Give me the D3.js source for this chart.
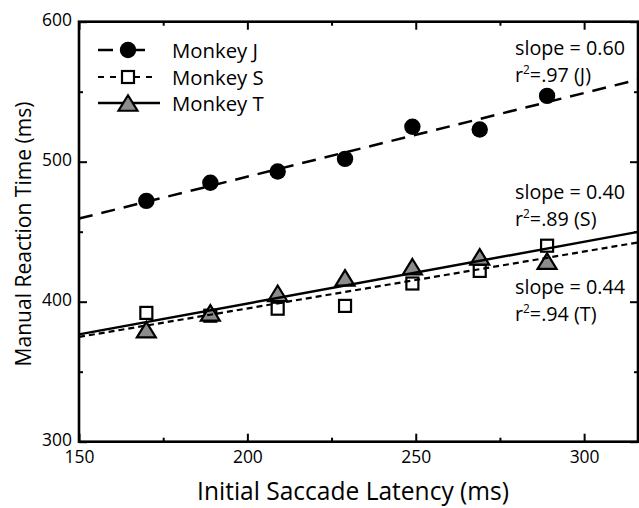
<!DOCTYPE html>
<html>
<head>
<meta charset="utf-8">
<script src="https://cdn.jsdelivr.net/npm/d3@7/dist/d3.min.js"></script>
<style>
  html, body { margin: 0; padding: 0; background: #fff; }
  svg { display: block; font-family: "Open Sans", "Noto Sans", sans-serif; }
</style>
</head>
<body>
<svg width="639" height="508"></svg>
<script>
'use strict';
// latency bins (ms) shared by the three monkeys
const latency = [170, 189, 209, 229, 249, 269, 289];
const rtJ = [472, 485, 493, 502, 525, 523, 547];
const rtS = [392, 390, 395, 397, 413, 422, 440];
const rtT = [380, 392, 406, 417, 425, 432, 429];
const seriesNames = ['Monkey J', 'Monkey S', 'Monkey T'];
const slopeLabels = ['0.60', '0.40', '0.44'];
const r2Labels = ['.97 (J)', '.89 (S)', '.94 (T)'];
const xMajor = [150, 200, 250, 300];
const xMinor = [175, 225, 275];
const yMajor = [300, 400, 500, 600];
const yMinor = [350, 450, 550];

(() => {
  const svg = d3.select('svg');
  const left = 79, right = 638, top = 21.7, bottom = 441.7;

  const x = d3.scaleLinear().domain([150, 316]).range([left, right]);
  const y = d3.scaleLinear().domain([300, 600]).range([bottom, top]);

  const series = [
    { name: seriesNames[0], values: rtJ, marker: 'circle', dash: '14,9', legendDash: '15,23,9', width: 2.5 },
    { name: seriesNames[1], values: rtS, marker: 'square', dash: '6,4', legendDash: '6,6', width: 2.2 },
    { name: seriesNames[2], values: rtT, marker: 'triangle', dash: null, legendDash: null, width: 2.5 }
  ];

  function fit(values) {
    const mx = d3.mean(latency), my = d3.mean(values);
    let sxy = 0, sxx = 0;
    latency.forEach((v, i) => {
      sxy += (v - mx) * (values[i] - my);
      sxx += (v - mx) * (v - mx);
    });
    const b = sxy / sxx;
    return { b: b, a: my - b * mx };
  }

  // shrink / grow a text so it spans a given width
  function fitText(sel, target) {
    const node = sel.node();
    const fs = parseFloat(sel.attr('font-size'));
    const w = node.getComputedTextLength();
    sel.attr('font-size', (fs * target / w).toFixed(2));
  }

  function drawMarker(g, kind, cx, cy) {
    if (kind === 'circle') {
      g.append('circle').attr('cx', cx).attr('cy', cy).attr('r', 8.2)
        .attr('fill', '#000');
    } else if (kind === 'square') {
      g.append('rect').attr('x', cx - 6).attr('y', cy - 6)
        .attr('width', 12).attr('height', 12)
        .attr('fill', '#fff').attr('stroke', '#000').attr('stroke-width', 2.2);
    } else {
      const w = 19, h = 15.5;
      g.append('path')
        .attr('d', `M${cx},${cy - h / 2}L${cx + w / 2},${cy + h / 2}L${cx - w / 2},${cy + h / 2}Z`)
        .attr('fill', '#8c8c8c').attr('stroke', '#000').attr('stroke-width', 2.2)
        .attr('stroke-linejoin', 'miter');
    }
  }

  // markers
  const marks = svg.append('g');
  series.forEach(s => {
    s.values.forEach((v, i) => drawMarker(marks, s.marker, x(latency[i]), y(v)));
  });

  // regression lines on top of markers
  const lines = svg.append('g');
  series.forEach(s => {
    const f = fit(s.values);
    const [x0, x1] = x.domain();
    lines.append('line')
      .attr('x1', x(x0)).attr('y1', y(f.a + f.b * x0))
      .attr('x2', x(x1)).attr('y2', y(f.a + f.b * x1))
      .attr('stroke', '#000').attr('stroke-width', s.width)
      .attr('stroke-dasharray', s.dash);
  });

  // axes, ticks inward on all four sides
  function axis(gen, tr, major, minor, labels) {
    const g = svg.append('g').attr('transform', tr);
    g.call(gen.tickValues(major).tickSize(-8).tickPadding(labels ? 7 : 0)
      .tickFormat(labels ? d3.format('d') : ''));
    g.select('.domain').remove();
    g.selectAll('.tick line').attr('stroke-width', 2);
    const gm = svg.append('g').attr('transform', tr);
    gm.call(gen.tickValues(minor).tickSize(-4).tickFormat(''));
    gm.select('.domain').remove();
    gm.selectAll('.tick line').attr('stroke-width', 2);
    return g;
  }
  const gx = axis(d3.axisBottom(x), `translate(0,${bottom})`, xMajor, xMinor, true);
  axis(d3.axisTop(x), `translate(0,${top})`, xMajor, xMinor, false);
  const gy = axis(d3.axisLeft(y), `translate(${left},0)`, yMajor, yMinor, true);
  axis(d3.axisRight(y), `translate(${right},0)`, yMajor, yMinor, false);

  svg.append('rect')
    .attr('x', left).attr('y', top)
    .attr('width', right - left).attr('height', bottom - top)
    .attr('fill', 'none').attr('stroke', '#000').attr('stroke-width', 2.6);

  [gx, gy].forEach(g => g.selectAll('.tick text')
    .attr('font-family', '"Open Sans", sans-serif')
    .attr('fill', '#000').attr('font-size', 18));
  const ref = gy.selectAll('.tick text').filter(d => d === 600);
  fitText(ref, 30);
  const tickFs = ref.attr('font-size');
  gx.selectAll('.tick text').attr('font-size', tickFs).attr('dy', '0.8em');
  gy.selectAll('.tick text').attr('font-size', tickFs).attr('dy', '0.2em');

  // axis titles
  const xt = svg.append('text')
    .attr('x', 353).attr('y', 500)
    .attr('text-anchor', 'middle').attr('font-size', 24)
    .text('Initial Saccade Latency (ms)');
  fitText(xt, 312);

  const yt = svg.append('text')
    .attr('transform', 'translate(31,234) rotate(-90)')
    .attr('text-anchor', 'middle').attr('font-size', 22)
    .text('Manual Reaction Time (ms)');
  fitText(yt, 265);

  // legend
  const legendY = [50, 77, 103];
  const legendEnd = [146, 154, 160];
  const lg = svg.append('g');
  let legendFs = null;
  series.forEach((s, i) => {
    lg.append('line')
      .attr('x1', 98).attr('x2', legendEnd[i])
      .attr('y1', legendY[i]).attr('y2', legendY[i])
      .attr('stroke', '#000').attr('stroke-width', s.width)
      .attr('stroke-dasharray', s.legendDash);
    drawMarker(lg, s.marker, 128, legendY[i]);
    const t = lg.append('text')
      .attr('x', 172).attr('y', legendY[i] + 8)
      .attr('font-size', 20).text(s.name);
    if (i === 0) { fitText(t, 86); legendFs = t.attr('font-size'); }
    else t.attr('font-size', legendFs);
  });

  // slope annotations
  const annoY = [55, 199, 294];
  let annoFs = null;
  series.forEach((s, i) => {
    const t1 = svg.append('text').attr('x', 515).attr('y', annoY[i])
      .attr('font-size', 20).text(`slope = ${slopeLabels[i]}`);
    if (i === 0) { fitText(t1, 110); annoFs = t1.attr('font-size'); }
    else t1.attr('font-size', annoFs);
    const t2 = svg.append('text').attr('x', 515).attr('y', annoY[i] + 27)
      .attr('font-size', annoFs);
    t2.append('tspan').text('r');
    t2.append('tspan').attr('dy', -8).attr('font-size', annoFs * 0.6).text('2');
    t2.append('tspan').attr('dy', 8).text(`=${r2Labels[i]}`);
  });
})();
</script>
</body>
</html>
